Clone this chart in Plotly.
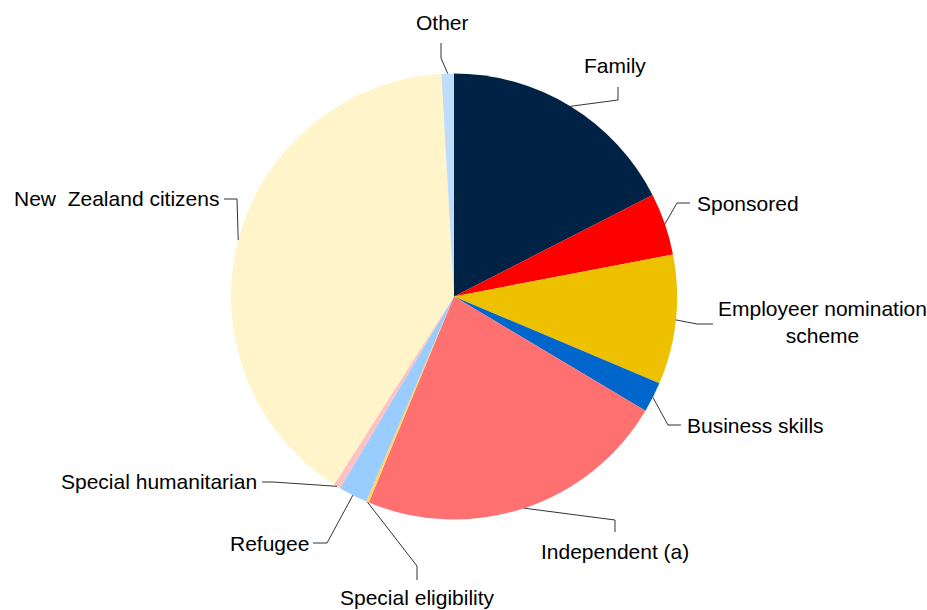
import math
import plotly.graph_objects as go

# Visa categories, clockwise from 12 o'clock
categories = [
    "Family",
    "Sponsored",
    "Employeer nomination scheme",
    "Business skills",
    "Independent (a)",
    "Special eligibility",
    "Refugee",
    "Special humanitarian",
    "New Zealand citizens",
    "Other",
]
shares = [17.5, 4.5, 9.4, 2.2, 22.7, 0.2, 2.1, 0.5, 40.1, 0.9]
label_text = [
    "Family",
    "Sponsored",
    "Employeer nomination<br>scheme",
    "Business skills",
    "Independent (a)",
    "Special eligibility",
    "Refugee",
    "Special humanitarian",
    "New\u00a0 Zealand citizens",
    "Other",
]
colors = [
    "#002245", "#FF0000", "#EDC100", "#0066CC", "#FF7070",
    "#FFD75A", "#99CCFF", "#FFC2C2", "#FFF4CA", "#BFDDFA",
]

# page geometry (pixels)
W, H = 927, 610
CX, CY, R = 454, 296.5, 223

# label placement: elbow point, end of leader, text anchor point, x-anchor
label_layout = {
    "Family":                      ((618, 100), (618, 87), (615, 66), "center"),
    "Sponsored":                   ((677, 203), (690, 203), (695, 203), "left"),
    "Employeer nomination scheme": ((697, 324), (713, 324), (822, 322), "center"),
    "Business skills":             ((668, 425), (681, 425), (685, 425), "left"),
    "Independent (a)":             ((615, 520), (615, 532), (615, 551), "center"),
    "Special eligibility":         ((417, 566), (417, 580), (417, 597), "center"),
    "Refugee":                     ((327, 543), (313, 543), (311, 543), "right"),
    "Special humanitarian":        ((273, 482), (262, 482), (259, 482), "right"),
    "New Zealand citizens":        ((237, 199), (224, 199), (221, 199), "right"),
    "Other":                       ((441, 58), (441, 43), (442, 23), "center"),
}


def px(x):
    return x / W


def py(y):
    return 1 - y / H


fig = go.Figure(
    go.Pie(
        labels=categories,
        values=shares,
        sort=False,
        direction="clockwise",
        rotation=0,
        marker=dict(colors=colors, line=dict(width=0)),
        textinfo="none",
        hoverinfo="label+percent",
        showlegend=False,
        domain=dict(x=[px(CX - R), px(CX + R)], y=[py(CY + R), py(CY - R)]),
    )
)

# leader lines start on the rim at each slice's mid-angle
total = sum(shares)
cum = 0.0
shapes, annotations = [], []
for cat, val, txt in zip(categories, shares, label_text):
    mid = (cum + val / 2) / total * 2 * math.pi
    cum += val
    ax = CX + R * math.sin(mid)
    ay = CY - R * math.cos(mid)
    (ex, ey), (tx, ty), (lx, ly), xa = label_layout[cat]
    shapes.append(dict(
        type="path", xref="paper", yref="paper",
        path=f"M {px(ax)} {py(ay)} L {px(ex)} {py(ey)} L {px(tx)} {py(ty)}",
        line=dict(color="#333333", width=1),
    ))
    annotations.append(dict(
        text=txt, xref="paper", yref="paper", x=px(lx), y=py(ly),
        xanchor=xa, yanchor="middle", showarrow=False, align="center",
        font=dict(family="Liberation Sans, Arial, sans-serif", size=21, color="#000000"),
    ))

fig.update_layout(
    width=W, height=H,
    margin=dict(l=0, r=0, t=0, b=0),
    paper_bgcolor="white",
    plot_bgcolor="white",
    shapes=shapes,
    annotations=annotations,
)

fig.write_html("out.html")
